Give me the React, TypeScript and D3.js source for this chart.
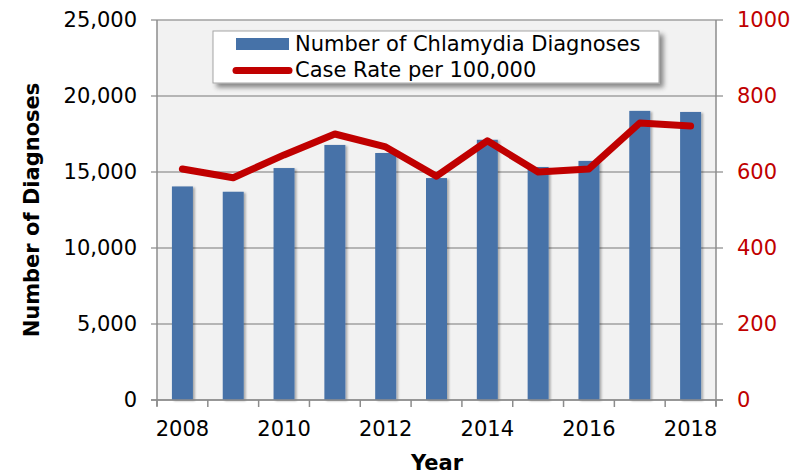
import React from 'react';
import * as d3 from 'd3';

const years = [2008, 2009, 2010, 2011, 2012, 2013, 2014, 2015, 2016, 2017, 2018];
const diagnoses = [14050, 13700, 15260, 16780, 16250, 14600, 17120, 15330, 15730, 19020, 18950];
const caseRate = [608, 585, 645, 700, 666, 589, 682, 600, 608, 729, 721];
const leftTicks = [0, 5000, 10000, 15000, 20000, 25000];
const rightTicks = [0, 200, 400, 600, 800, 1000];
const xLabelYears = [2008, 2010, 2012, 2014, 2016, 2018];

const FONT = '"DejaVu Sans", Verdana, sans-serif';

export default function App() {
  const W = 791, H = 475;
  const L = 157, R = 716, T = 20, B = 400;
  const x = d3.scaleBand<string>().domain(years.map(String)).range([L, R]).paddingInner(0.587).paddingOuter(0.2935);
  const yL = d3.scaleLinear().domain([0, 25000]).range([B, T]);
  const yR = d3.scaleLinear().domain([0, 1000]).range([B, T]);
  const fmt = d3.format(',');
  const bw = x.bandwidth();
  const step = x.step();
  const line = d3.line<number>()
    .x((_, i) => (x(String(years[i])) as number) + bw / 2)
    .y(d => yR(d));
  const boundaries = d3.range(years.length + 1).map(i => L + i * step);
  const axisCol = '#8c8c8c';
  const red = '#c00000';
  const blue = '#4672a8';
  const fs = 21;
  return (
    <svg width={W} height={H} style={{ position: 'absolute', left: 0, top: 0, background: '#fff' }}
      fontFamily={FONT}>
      <defs>
        <filter id="lshadow" x="-10%" y="-20%" width="130%" height="160%">
          <feGaussianBlur in="SourceAlpha" stdDeviation="2.5" />
          <feOffset dx="4" dy="4" result="ob" />
          <feComponentTransfer><feFuncA type="linear" slope="0.45" /></feComponentTransfer>
          <feMerge><feMergeNode /><feMergeNode in="SourceGraphic" /></feMerge>
        </filter>
        <filter id="bshadow" x="-30%" y="-5%" width="160%" height="110%">
          <feGaussianBlur in="SourceAlpha" stdDeviation="1.2" />
          <feOffset dx="2" dy="1" />
          <feComponentTransfer><feFuncA type="linear" slope="0.3" /></feComponentTransfer>
          <feMerge><feMergeNode /><feMergeNode in="SourceGraphic" /></feMerge>
        </filter>
      </defs>
      <rect x={L} y={T} width={R - L} height={B - T} fill="#f2f2f2" />
      {leftTicks.map(t => (
        <line key={'g' + t} x1={L - 6} x2={R + 7} y1={yL(t)} y2={yL(t)} stroke="#a0a0a0" strokeWidth={1.5} />
      ))}
      {years.map((yr, i) => (
        <rect key={'b' + yr} x={x(String(yr))} y={yL(diagnoses[i])} width={bw} height={B - yL(diagnoses[i])}
          fill={blue} filter="url(#bshadow)" />
      ))}
      <line x1={L} x2={L} y1={T} y2={B + 6} stroke={axisCol} strokeWidth={1.5} />
      <line x1={R} x2={R} y1={T} y2={B + 6} stroke={axisCol} strokeWidth={1.5} />
      <line x1={L - 6} x2={R + 7} y1={B} y2={B} stroke={axisCol} strokeWidth={1.5} />
      {boundaries.map((bx, i) => (
        <line key={'t' + i} x1={bx} x2={bx} y1={B} y2={B + 7} stroke={axisCol} strokeWidth={1.5} />
      ))}
      <path d={line(caseRate) || ''} fill="none" stroke={red} strokeWidth={7} strokeLinecap="round" strokeLinejoin="round" />
      {leftTicks.map(t => (
        <text key={'lt' + t} x={137} y={yL(t)} dy="0.35em" textAnchor="end" fontSize={fs} fill="#000">{fmt(t)}</text>
      ))}
      {rightTicks.map(t => (
        <text key={'rt' + t} x={737} y={yR(t)} dy="0.35em" textAnchor="start" fontSize={fs} fill={red}>{t}</text>
      ))}
      {xLabelYears.map(yr => (
        <text key={'xt' + yr} x={(x(String(yr)) as number) + bw / 2} y={436} textAnchor="middle" fontSize={fs} fill="#000">{yr}</text>
      ))}
      <text x={437} y={470} textAnchor="middle" fontSize={fs} fontWeight="bold">Year</text>
      <text transform="translate(39,210) rotate(-90)" textAnchor="middle" fontSize={fs} fontWeight="bold">Number of Diagnoses</text>
      <g filter="url(#lshadow)">
        <rect x={213} y={31} width={446} height={52} fill="#fff" stroke="#a6a6a6" strokeWidth={1} />
      </g>
      <rect x={236} y={38} width={53} height={12} fill={blue} />
      <line x1={236} x2={289} y1={70.5} y2={70.5} stroke={red} strokeWidth={7} strokeLinecap="round" />
      <text x={295} y={51} fontSize={fs}>Number of Chlamydia Diagnoses</text>
      <text x={295} y={77} fontSize={fs}>Case Rate per 100,000</text>
    </svg>
  );
}
